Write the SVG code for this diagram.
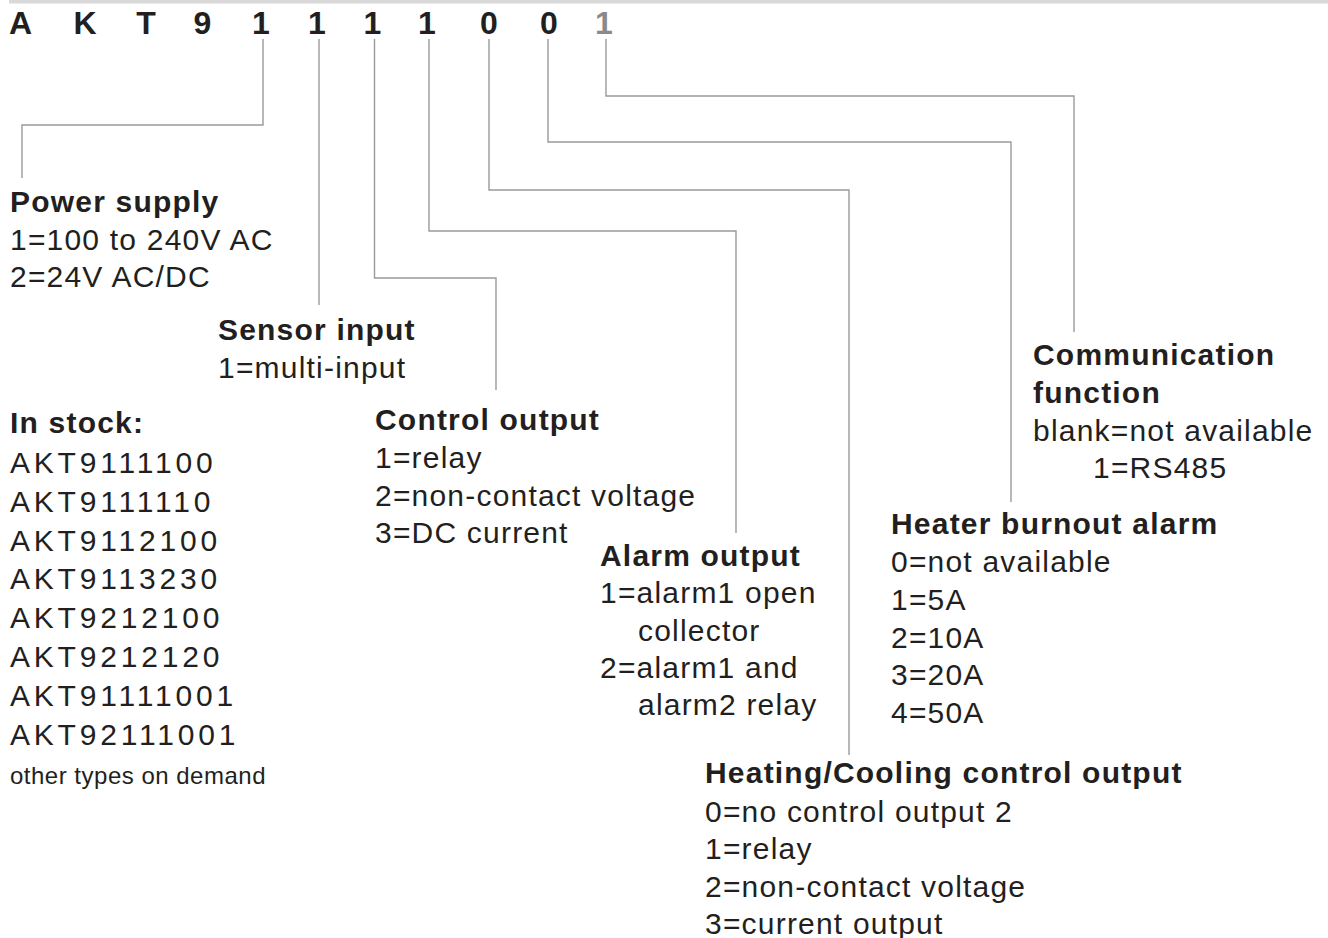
<svg xmlns="http://www.w3.org/2000/svg" width="1328" height="938" viewBox="0 0 1328 938">
<style>
text{font-family:"Liberation Sans",Arial,Helvetica,sans-serif;fill:#231f20;font-size:30px;letter-spacing:1.2px}
.h{font-weight:bold}
.d{font-weight:bold;font-size:32px;text-anchor:middle;letter-spacing:0}
.c{letter-spacing:3.8px}
.s{font-size:24px;letter-spacing:0.5px}
.ln{fill:none;stroke:#9a9a9a;stroke-width:1.4}
</style>
<rect x="9" y="0" width="1319" height="3.5" fill="#d9d9d9"/>
<g id="code">
<text class="d" x="20.5" y="33.5">A</text>
<text class="d" x="85" y="33.5">K</text>
<text class="d" x="146" y="33.5">T</text>
<text class="d" x="202.5" y="33.5">9</text>
<text class="d" x="261" y="33.5">1</text>
<text class="d" x="317" y="33.5">1</text>
<text class="d" x="372.5" y="33.5">1</text>
<text class="d" x="427" y="33.5">1</text>
<text class="d" x="489" y="33.5">0</text>
<text class="d" x="549" y="33.5">0</text>
<text class="d" x="604" y="33.5" style="fill:#8a8a8a">1</text>
</g>
<g id="connectors">
<path class="ln" d="M263,39V125H22V178"/>
<path class="ln" d="M319,39V305"/>
<path class="ln" d="M374.5,39V278H496V390"/>
<path class="ln" d="M429,39V231H736V533"/>
<path class="ln" d="M489,39V190H849V755"/>
<path class="ln" d="M548,39V142H1011V502"/>
<path class="ln" d="M606,39V96H1074V332"/>
</g>
<g id="power">
<text class="h" x="10" y="212">Power supply</text>
<text x="10" y="249.5">1=100 to 240V AC</text>
<text x="10" y="287">2=24V AC/DC</text>
</g>
<g id="sensor">
<text class="h" x="218" y="339.5">Sensor input</text>
<text x="218" y="377.5">1=multi-input</text>
</g>
<g id="stock">
<text class="h" x="10" y="433">In stock:</text>
<text class="c" x="10" y="473">AKT9111100</text>
<text class="c" x="10" y="512">AKT9111110</text>
<text class="c" x="10" y="550.5">AKT9112100</text>
<text class="c" x="10" y="589">AKT9113230</text>
<text class="c" x="10" y="628">AKT9212100</text>
<text class="c" x="10" y="667">AKT9212120</text>
<text class="c" x="10" y="706">AKT91111001</text>
<text class="c" x="10" y="745">AKT92111001</text>
<text class="s" x="10" y="784">other types on demand</text>
</g>
<g id="control">
<text class="h" x="375" y="430">Control output</text>
<text x="375" y="468">1=relay</text>
<text x="375" y="505.5">2=non-contact voltage</text>
<text x="375" y="543">3=DC current</text>
</g>
<g id="alarm">
<text class="h" x="600" y="566">Alarm output</text>
<text x="600" y="603">1=alarm1 open</text>
<text x="638" y="641">collector</text>
<text x="600" y="678">2=alarm1 and</text>
<text x="638" y="715">alarm2 relay</text>
</g>
<g id="heating">
<text class="h" x="705" y="783">Heating/Cooling control output</text>
<text x="705" y="821.5">0=no control output 2</text>
<text x="705" y="859">1=relay</text>
<text x="705" y="896.5">2=non-contact voltage</text>
<text x="705" y="934">3=current output</text>
</g>
<g id="heater">
<text class="h" x="891" y="534">Heater burnout alarm</text>
<text x="891" y="572">0=not available</text>
<text x="891" y="609.5">1=5A</text>
<text x="891" y="647.5">2=10A</text>
<text x="891" y="685">3=20A</text>
<text x="891" y="722.5">4=50A</text>
</g>
<g id="comm">
<text class="h" x="1033" y="365">Communication</text>
<text class="h" x="1033" y="403">function</text>
<text x="1033" y="440.5">blank=not available</text>
<text x="1093" y="478">1=RS485</text>
</g>
</svg>
